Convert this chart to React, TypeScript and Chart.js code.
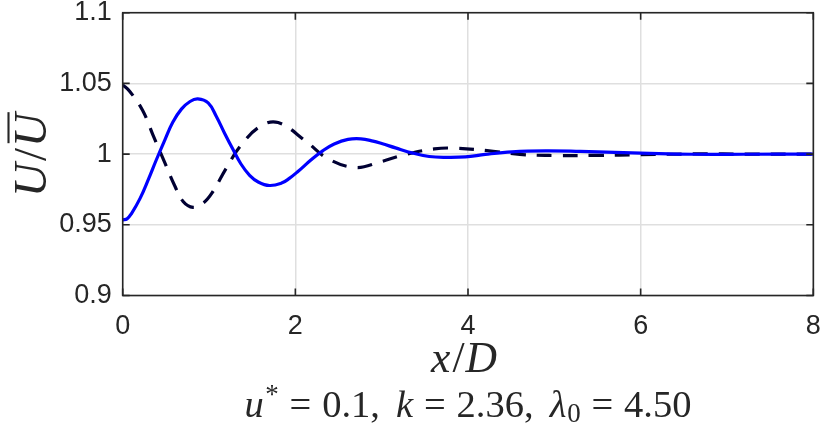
import { useEffect, useRef } from 'react';
import { Chart, registerables } from 'chart.js';

Chart.register(...registerables);

// ---- data ----
const X_SOLID = [0, 0.05, 0.1, 0.2, 0.3, 0.39, 0.49, 0.58, 0.68, 0.78, 0.87, 0.99, 1.085, 1.18, 1.28, 1.37, 1.47, 1.57, 1.7, 1.84, 1.93, 2.03, 2.18, 2.32, 2.45, 2.61, 2.76, 2.9, 3.0, 3.16, 3.36, 3.55, 3.74, 3.97, 4.2, 4.51, 4.9, 5.3, 5.7, 6.1, 6.6, 7.2, 8];
const Y_SOLID = [0.9535, 0.9542, 0.9578, 0.9685, 0.9825, 0.996, 1.0103, 1.0225, 1.0318, 1.0372, 1.039, 1.0362, 1.0266, 1.0148, 1.003, 0.993, 0.985, 0.9803, 0.9778, 0.9795, 0.9828, 0.9877, 0.9958, 1.0025, 1.0072, 1.0104, 1.0108, 1.0092, 1.0075, 1.0044, 1.0007, 0.9983, 0.9977, 0.998, 0.9998, 1.0016, 1.0023, 1.0019, 1.0012, 1.0005, 0.9999, 0.9999, 1.0];

const X_DASHED = [0, 0.08, 0.23, 0.35, 0.49, 0.6, 0.7, 0.815, 0.93, 1.035, 1.19, 1.36, 1.59, 1.8, 2.12, 2.38, 2.7, 2.98, 3.26, 3.61, 3.85, 4.22, 4.6, 5.0, 5.5, 6.0, 6.6, 7.3, 8];
const Y_DASHED = [1.049, 1.0445, 1.031, 1.0136, 0.9936, 0.978, 0.9665, 0.9623, 0.9652, 0.9725, 0.989, 1.0054, 1.0195, 1.0223, 1.0092, 0.9967, 0.9905, 0.9944, 0.9995, 1.0037, 1.0042, 1.0025, 0.9998, 0.999, 0.9991, 0.9996, 1.0001, 1.0, 1.0];

const X_TICKS = [0, 2, 4, 6, 8];
const X_TICK_LABELS = ['0', '2', '4', '6', '8'];
const Y_TICKS = [0.9, 0.95, 1, 1.05, 1.1];
const Y_TICK_LABELS = ['0.9', '0.95', '1', '1.05', '1.1'];

type Seg = { t: string; it?: boolean; scale?: number; dy?: number; pre?: number; over?: boolean };

const X_TITLE: Seg[] = [{ t: 'x', it: true }, { t: '/', pre: 0.05 }, { t: 'D', it: true, pre: 0.02 }];
const Y_TITLE: Seg[] = [{ t: 'U', it: true }, { t: '/', pre: 0.05 }, { t: 'U', it: true, over: true, pre: 0.02 }];
const SUBTITLE: Seg[] = [
  { t: 'u', it: true },
  { t: '*', scale: 0.7, dy: -0.36, pre: 0.04 },
  { t: '=', pre: 0.28 },
  { t: '0.1,', pre: 0.28 },
  { t: 'k', it: true, pre: 0.42 },
  { t: '=', pre: 0.28 },
  { t: '2.36,', pre: 0.28 },
  { t: 'λ', it: true, pre: 0.42 },
  { t: '0', scale: 0.7, dy: 0.15, pre: 0.02 },
  { t: '=', pre: 0.28 },
  { t: '4.50', pre: 0.28 },
];

const SERIF = '"Liberation Serif", "DejaVu Serif", serif';
const SANS = '"Liberation Sans", Arial, sans-serif';
const AXIS_COLOR = '#262626';

function fontFor(s: Seg, size: number) {
  const sz = size * (s.scale ?? 1);
  return `${s.it ? 'italic ' : ''}${sz.toFixed(2)}px ${SERIF}`;
}

function measureSegs(ctx: CanvasRenderingContext2D, segs: Seg[], size: number) {
  const items: { x: number; w: number }[] = [];
  let x = 0;
  for (const s of segs) {
    x += (s.pre ?? 0) * size;
    ctx.font = fontFor(s, size);
    const w = ctx.measureText(s.t).width;
    items.push({ x, w });
    x += w;
  }
  return { items, total: x };
}

function drawSegs(ctx: CanvasRenderingContext2D, segs: Seg[], targetW: number, cx: number, baseline: number) {
  const base = measureSegs(ctx, segs, 100);
  const size = (100 * targetW) / base.total;
  const m = measureSegs(ctx, segs, size);
  const x0 = cx - m.total / 2;
  ctx.textAlign = 'left';
  ctx.textBaseline = 'alphabetic';
  segs.forEach((s, i) => {
    ctx.font = fontFor(s, size);
    const px = x0 + m.items[i].x;
    const py = baseline + (s.dy ?? 0) * size;
    ctx.fillText(s.t, px, py);
    if (s.over) {
      ctx.save();
      ctx.lineWidth = Math.max(1.5, size * 0.045);
      ctx.beginPath();
      ctx.moveTo(px + size * 0.08, baseline - size * 0.8);
      ctx.lineTo(px + m.items[i].w + size * 0.02, baseline - size * 0.8);
      ctx.stroke();
      ctx.restore();
    }
  });
}

const framePlugin = {
  id: 'frameAndTitles',
  afterDraw(chart: any) {
    const { ctx, chartArea: a, scales } = chart;
    ctx.save();
    ctx.strokeStyle = AXIS_COLOR;
    ctx.lineWidth = 1.6;
    ctx.strokeRect(a.left, a.top, a.right - a.left, a.bottom - a.top);
    const L = 7;
    ctx.beginPath();
    for (const v of X_TICKS) {
      const px = scales.x.getPixelForValue(v);
      ctx.moveTo(px, a.bottom);
      ctx.lineTo(px, a.bottom - L);
      ctx.moveTo(px, a.top);
      ctx.lineTo(px, a.top + L);
    }
    for (const v of Y_TICKS) {
      const py = scales.y.getPixelForValue(v);
      ctx.moveTo(a.left, py);
      ctx.lineTo(a.left + L, py);
      ctx.moveTo(a.right, py);
      ctx.lineTo(a.right - L, py);
    }
    ctx.stroke();

    ctx.fillStyle = AXIS_COLOR;
    ctx.strokeStyle = AXIS_COLOR;
    const cx = (a.left + a.right) / 2;
    drawSegs(ctx, X_TITLE, 66, cx - 4, 371.5);
    drawSegs(ctx, SUBTITLE, 447, cx, 416.5);

    ctx.save();
    ctx.translate(46, (a.top + a.bottom) / 2 + 1);
    ctx.rotate(-Math.PI / 2);
    drawSegs(ctx, Y_TITLE, 84, 0, 0);
    ctx.restore();
    ctx.restore();
  },
};

export default function App() {
  const ref = useRef<HTMLCanvasElement | null>(null);

  useEffect(() => {
    if (!ref.current) return;
    const solid = X_SOLID.map((x, i) => ({ x, y: Y_SOLID[i] }));
    const dashed = X_DASHED.map((x, i) => ({ x, y: Y_DASHED[i] }));
    const chart = new Chart(ref.current, {
      type: 'line',
      data: {
        datasets: [
          {
            data: solid,
            borderColor: '#0000ff',
            borderWidth: 3.2,
            pointRadius: 0,
            tension: 0.4,
            fill: false,
            order: 0,
          },
          {
            data: dashed,
            borderColor: '#000033',
            borderWidth: 3.2,
            borderDash: [15, 11],
            pointRadius: 0,
            tension: 0.4,
            fill: false,
            order: 1,
          },
        ],
      },
      options: {
        animation: false,
        responsive: false,
        devicePixelRatio: 1,
        layout: { padding: { top: 12.7, right: 16.7, left: 0, bottom: 0 } },
        plugins: { legend: { display: false }, tooltip: { enabled: false }, title: { display: false } },
        scales: {
          x: {
            type: 'linear',
            min: 0,
            max: 8,
            afterBuildTicks: (s: any) => {
              s.ticks = X_TICKS.map((v) => ({ value: v }));
            },
            afterFit: (s: any) => {
              s.height = 427 - 295.5;
              s.paddingLeft = 0;
              s.paddingRight = 0;
            },
            ticks: {
              autoSkip: false,
              maxRotation: 0,
              padding: 18,
              color: AXIS_COLOR,
              font: { family: SANS, size: 27, lineHeight: 1 },
              callback: (v: any) => {
                const i = X_TICKS.findIndex((t) => Math.abs(t - v) < 1e-6);
                return i >= 0 ? X_TICK_LABELS[i] : '';
              },
            },
            grid: { color: '#dfdfdf', lineWidth: 1.5, drawTicks: false },
            border: { display: false },
          },
          y: {
            type: 'linear',
            min: 0.9,
            max: 1.1,
            afterBuildTicks: (s: any) => {
              s.ticks = Y_TICKS.map((v) => ({ value: v }));
            },
            afterFit: (s: any) => {
              s.width = 122.7;
              s.paddingTop = 0;
              s.paddingBottom = 0;
            },
            ticks: {
              autoSkip: false,
              padding: 11,
              color: AXIS_COLOR,
              font: { family: SANS, size: 27, lineHeight: 1 },
              callback: (v: any) => {
                const i = Y_TICKS.findIndex((t) => Math.abs(t - v) < 1e-6);
                return i >= 0 ? Y_TICK_LABELS[i] : '';
              },
            },
            grid: { color: '#dfdfdf', lineWidth: 1.5, drawTicks: false },
            border: { display: false },
          },
        },
      },
      plugins: [framePlugin],
    });
    return () => chart.destroy();
  }, []);

  return (
    <div style={{ position: 'absolute', left: 0, top: 0, width: 830, height: 427, background: '#ffffff' }}>
      <canvas ref={ref} width={830} height={427} style={{ width: 830, height: 427, display: 'block' }} />
    </div>
  );
}
